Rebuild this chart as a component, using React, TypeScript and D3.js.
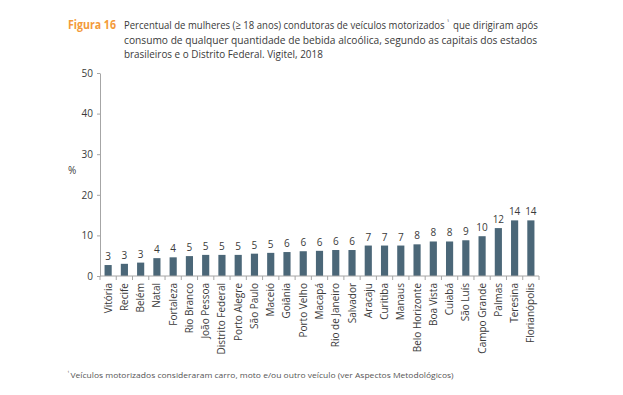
import { useEffect, useRef } from 'react'
import * as d3 from 'd3'

const cities = [
  'Vitória', 'Recife', 'Belém', 'Natal', 'Fortaleza', 'Rio Branco', 'João Pessoa',
  'Distrito Federal', 'Porto Alegre', 'São Paulo', 'Maceió', 'Goiânia', 'Porto Velho',
  'Macapá', 'Rio de Janeiro', 'Salvador', 'Aracaju', 'Curitiba', 'Manaus',
  'Belo Horizonte', 'Boa Vista', 'Cuiabá', 'São Luís', 'Campo Grande', 'Palmas',
  'Teresina', 'Florianópolis'
]
const values = [
  2.7, 3.0, 3.3, 4.4, 4.6, 4.9, 5.2, 5.2, 5.2, 5.5, 5.7, 5.9, 6.1,
  6.2, 6.4, 6.4, 7.5, 7.5, 7.5, 7.8, 8.5, 8.5, 8.8, 9.8, 11.8, 13.7, 13.7
]
const labels = [3, 3, 3, 4, 4, 5, 5, 5, 5, 5, 5, 6, 6, 6, 6, 6, 7, 7, 7, 8, 8, 8, 9, 10, 12, 14, 14]
const yTicks = [0, 10, 20, 30, 40, 50]

const titleStart = 'Percentual de mulheres (≥ 18 anos) condutoras de veículos motorizados'
const titleEnd = 'que dirigiram após'
const titleRest = [
  'consumo de qualquer quantidade de bebida alcoólica, segundo as capitais dos estados',
  'brasileiros e o Distrito Federal. Vigitel, 2018'
]
const mark = '¹'
const footnote = 'Veículos motorizados consideraram carro, moto e/ou outro veículo (ver Aspectos Metodológicos)'

const font = '"Open Sans", "Noto Sans", sans-serif'
const textColor = '#3a3a3a'
const axisColor = '#a6a6a6'
const barColor = '#4b6778'

export default function App() {
  const svgRef = useRef<SVGSVGElement>(null)

  useEffect(() => {
    if (!svgRef.current) return
    const svg = d3.select(svgRef.current)
    svg.selectAll('*').remove()

    // text squeezed horizontally to a given width (the original uses a condensed face)
    const addText = (x: number, y: number, txt: string, size: number, len?: number) => {
      const t = svg.append('text')
        .attr('transform', `translate(${x},${y})`)
        .attr('fill', textColor)
        .attr('font-family', font)
        .attr('font-size', size)
        .text(txt)
      if (len) {
        const w = (t.node() as SVGTextElement).getComputedTextLength()
        if (w > 0) t.attr('transform', `translate(${x},${y}) scale(${len / w},1)`)
      }
      return t
    }

    // title
    const fig = addText(68, 29, 'Figura 16', 11.5)
      .attr('fill', '#f39a3a')
      .attr('font-weight', 'bold')
    const fw = (fig.node() as SVGTextElement).getComputedTextLength()
    fig.attr('transform', `translate(68,29) scale(${48 / fw},1)`)
    addText(124, 29, titleStart, 11.5, 321)
    addText(447, 25, mark, 6)
    addText(453, 29, titleEnd, 11.5, 85)
    addText(124, 43.5, titleRest[0], 11.5, 414)
    addText(124, 58, titleRest[1], 11.5, 199)

    const x = d3.scaleBand()
      .domain(cities)
      .range([100, 539])
      .paddingInner(0.56)
      .paddingOuter(0.28)

    const y = d3.scaleLinear().domain([0, 50]).range([276, 73])

    // y axis
    const yAxis = svg.append('g').attr('transform', 'translate(100,0)')
      .call(d3.axisLeft(y).tickValues(yTicks).tickSize(3).tickPadding(4).tickSizeOuter(0))
    yAxis.select('.domain').attr('stroke', axisColor)
    yAxis.selectAll('.tick line').attr('stroke', axisColor)
    yAxis.selectAll('.tick text')
      .attr('fill', textColor)
      .attr('font-family', font)
      .attr('font-size', 10)

    addText(68, 174, '%', 10)

    // bars
    svg.selectAll('.bar')
      .data(values)
      .join('rect')
      .attr('class', 'bar')
      .attr('x', (_, i) => x(cities[i]) || 0)
      .attr('y', d => y(d))
      .attr('width', x.bandwidth())
      .attr('height', d => y(0) - y(d))
      .attr('fill', barColor)

    // value labels
    svg.selectAll('.val')
      .data(values)
      .join('text')
      .attr('class', 'val')
      .attr('x', (_, i) => (x(cities[i]) || 0) + x.bandwidth() / 2)
      .attr('y', d => y(d) - 5)
      .attr('text-anchor', 'middle')
      .attr('fill', textColor)
      .attr('font-family', font)
      .attr('font-size', 10)
      .text((_, i) => labels[i])

    // x axis
    const step = x.step()
    const xAxis = svg.append('g')
    xAxis.append('line')
      .attr('x1', 100).attr('x2', 539)
      .attr('y1', y(0)).attr('y2', y(0))
      .attr('stroke', axisColor)
    xAxis.selectAll('.xtick')
      .data(d3.range(cities.length + 1))
      .join('line')
      .attr('class', 'xtick')
      .attr('x1', i => 100 + i * step)
      .attr('x2', i => 100 + i * step)
      .attr('y1', y(0)).attr('y2', y(0) + 4)
      .attr('stroke', axisColor)

    svg.selectAll('.cat')
      .data(cities)
      .join('text')
      .attr('class', 'cat')
      .attr('transform', d => `translate(${(x(d) || 0) + x.bandwidth() / 2 + 3.5},${y(0) + 7}) rotate(-90)`)
      .attr('text-anchor', 'end')
      .attr('fill', textColor)
      .attr('font-family', font)
      .attr('font-size', 10)
      .text(d => d)

    // footnote
    addText(67.5, 375, mark, 5).attr('fill', '#555')
    addText(70.5, 378, footnote, 8, 384).attr('fill', '#555')
  }, [])

  return (
    <div style={{ position: 'absolute', left: 0, top: 0, background: '#fff' }}>
      <svg ref={svgRef} width={623} height={395}></svg>
    </div>
  )
}
